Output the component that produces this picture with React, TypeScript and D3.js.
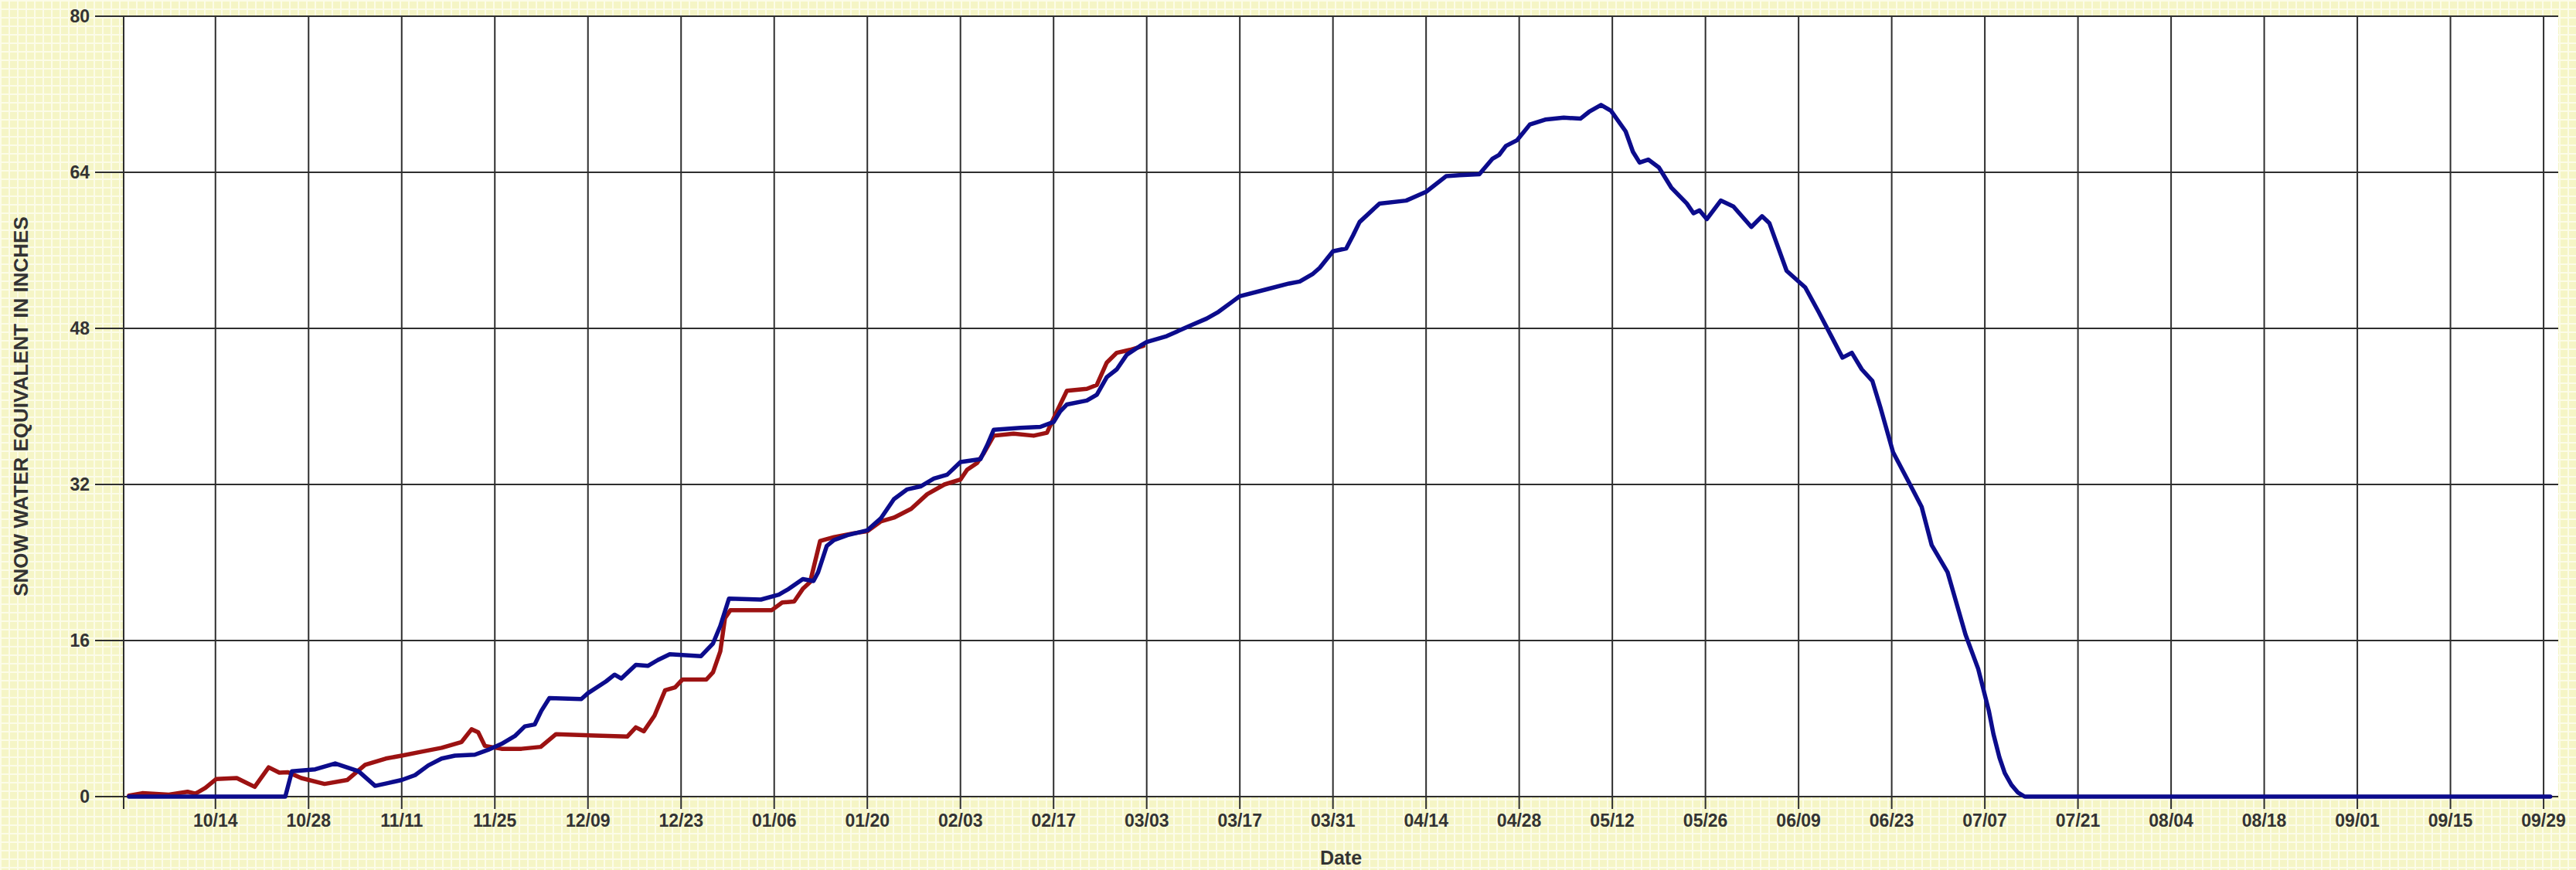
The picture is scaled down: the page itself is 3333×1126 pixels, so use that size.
import React from "react";
import * as d3 from "d3";

// ---- data (day of water year, 10/01 = day 0) ----
const xTickDays = [13, 27, 41, 55, 69, 83, 97, 111, 125, 139, 153, 167, 181, 195, 209, 223, 237, 251, 265, 279, 293, 307, 321, 335, 349, 363];
const xTickLabels = ["10/14", "10/28", "11/11", "11/25", "12/09", "12/23", "01/06", "01/20", "02/03", "02/17", "03/03", "03/17", "03/31", "04/14", "04/28", "05/12", "05/26", "06/09", "06/23", "07/07", "07/21", "08/04", "08/18", "09/01", "09/15", "09/29"];
const yTicks = [0, 16, 32, 48, 64, 80];

const blueDays = [0, 23.5, 24.5, 28, 31, 34.5, 37, 39, 41, 43, 45, 47, 49, 52, 54, 56, 58, 59.5, 61, 62, 63.2, 68, 69, 71.7, 73, 74, 76.2, 78, 79.5, 81.3, 86, 87.8, 88.9, 90.2, 95, 97.7, 99.2, 101.3, 102.9, 103.6, 104.9, 106, 108, 111, 113, 115, 117, 119, 121, 123, 125, 128, 129, 130, 134, 137, 139, 140, 141, 144, 145.5, 147, 148.5, 150, 152, 153, 156, 159.6, 162, 163.8, 166, 167, 171, 174.4, 176, 178, 179, 181, 183, 184, 185, 188, 192, 195, 198, 200, 203, 205, 206, 207, 208.7, 210.6, 212.9, 215.7, 218.2, 219.5, 221.3, 222.8, 225, 226.1, 227.1, 228.4, 230, 231.9, 234.2, 235.2, 236.1, 237.2, 239.3, 241.2, 243.9, 245.5, 246.6, 249.2, 252, 254, 256, 257.6, 259, 260.5, 262.1, 263.3, 265.2, 267.6, 269.5, 271, 273.4, 276.1, 278, 279.6, 280.3, 281.2, 282, 283, 284, 285, 364];
const blueValues = [0, 0, 2.6, 2.8, 3.4, 2.6, 1.1, 1.4, 1.7, 2.2, 3.2, 3.9, 4.2, 4.3, 4.8, 5.4, 6.2, 7.2, 7.4, 8.8, 10.1, 10.0, 10.6, 11.8, 12.5, 12.1, 13.5, 13.4, 14.0, 14.6, 14.4, 15.7, 17.5, 20.3, 20.2, 20.7, 21.3, 22.3, 22.1, 23.0, 25.7, 26.3, 26.8, 27.3, 28.5, 30.5, 31.5, 31.8, 32.6, 33.0, 34.3, 34.6, 36.0, 37.6, 37.8, 37.9, 38.4, 39.5, 40.2, 40.6, 41.2, 43.0, 43.8, 45.3, 46.2, 46.6, 47.2, 48.3, 49.0, 49.7, 50.8, 51.3, 52.0, 52.6, 52.8, 53.6, 54.2, 55.9, 56.2, 57.5, 58.9, 60.8, 61.1, 62.0, 63.6, 63.7, 63.8, 65.4, 65.8, 66.7, 67.3, 68.9, 69.4, 69.6, 69.5, 70.2, 70.9, 70.3, 68.2, 66.1, 65.0, 65.3, 64.5, 62.4, 60.8, 59.8, 60.1, 59.2, 61.1, 60.5, 58.4, 59.5, 58.8, 53.9, 52.2, 49.7, 47.1, 45.0, 45.5, 43.8, 42.6, 39.9, 35.3, 32.2, 29.7, 25.8, 23.0, 16.6, 13.1, 8.8, 6.4, 4.0, 2.4, 1.2, 0.4, 0, 0];

const redDays = [0, 2, 6, 8.8, 10, 11.5, 13.1, 16.2, 18.9, 21, 22.6, 23.9, 25.9, 29.4, 32.8, 35.5, 38.6, 41, 44, 47, 50, 51.5, 52.5, 53.5, 56, 59, 61.9, 64.2, 74.9, 76.2, 77.4, 79, 80.6, 82.1, 83.2, 86.8, 87.8, 88.9, 89.6, 90.4, 96.6, 98.2, 100, 101.3, 102.4, 103.9, 106, 109, 111, 113, 115, 117.6, 120, 122.6, 125, 126, 127.5, 128.5, 130, 133, 136, 138, 139.5, 141, 144, 145.5, 147, 148.5, 150.5, 152.5];
const redValues = [0.1, 0.35, 0.2, 0.5, 0.3, 0.9, 1.8, 1.9, 1.0, 3.0, 2.45, 2.5, 1.9, 1.3, 1.7, 3.25, 3.9, 4.2, 4.6, 5.0, 5.6, 6.9, 6.6, 5.2, 4.9, 4.9, 5.1, 6.4, 6.15, 7.1, 6.7, 8.3, 10.9, 11.2, 12.0, 12.0, 12.75, 14.9, 18.3, 19.1, 19.1, 19.9, 20.0, 21.3, 22.0, 26.2, 26.6, 27.0, 27.2, 28.2, 28.6, 29.5, 31.0, 32.0, 32.5, 33.5, 34.2, 35.2, 37.0, 37.2, 37.0, 37.3, 39.5, 41.6, 41.8, 42.2, 44.5, 45.5, 45.8, 46.2];

const W = 3333;
const H = 1126;
const PL = 160, PR = 3310, PT = 21, PB = 1031;

export default function App() {
  const x = d3.scaleLinear().domain([-0.8, 365.2]).range([PL, PR]);
  const y = d3.scaleLinear().domain([0, 80]).range([PB, PT]);
  const line = d3
    .line<[number, number]>()
    .x((d) => x(d[0]))
    .y((d) => y(d[1]))
    .curve(d3.curveLinear);
  const blue = blueDays.map((d, i) => [d, blueValues[i]] as [number, number]);
  const red = redDays.map((d, i) => [d, redValues[i]] as [number, number]);
  const gridColor = "#2e2e2e";
  const font = "'Liberation Sans', Arial, sans-serif";
  return (
    <svg
      width={W}
      height={H}
      style={{ position: "absolute", left: 0, top: 0, display: "block" }}
    >
      <defs>
        <pattern id="paper" width={11} height={11} patternUnits="userSpaceOnUse">
          <rect width={11} height={11} fill="#f5f5c6" />
          <path d="M0 1H11M1 0V11" stroke="#fcfce8" strokeWidth={2} />
        </pattern>
      </defs>
      <rect x={0} y={0} width={W} height={H} fill="url(#paper)" />
      <rect x={PL} y={PT} width={PR - PL} height={PB - PT} fill="#ffffff" />
      {/* horizontal grid + y ticks */}
      {yTicks.map((t) => (
        <g key={"y" + t}>
          <line x1={123} x2={PR} y1={y(t)} y2={y(t)} stroke={gridColor} strokeWidth={2} />
          <text
            x={116}
            y={y(t)}
            textAnchor="end"
            dominantBaseline="central"
            fontFamily={font}
            fontWeight="bold"
            fontSize={23}
            fill="#333"
          >
            {t}
          </text>
        </g>
      ))}
      {/* vertical grid + x ticks */}
      {xTickDays.map((d, i) => (
        <g key={"x" + d}>
          <line x1={x(d)} x2={x(d)} y1={PT} y2={PB + 16} stroke={gridColor} strokeWidth={2} />
          <text
            x={x(d)}
            y={1070}
            textAnchor="middle"
            fontFamily={font}
            fontWeight="bold"
            fontSize={23}
            fill="#333"
          >
            {xTickLabels[i]}
          </text>
        </g>
      ))}
      {/* y axis line */}
      <line x1={PL} x2={PL} y1={PT} y2={PB + 16} stroke={gridColor} strokeWidth={2} />
      {/* series */}
      <path d={line(red) || ""} fill="none" stroke="#9c1212" strokeWidth={5.5} strokeLinejoin="round" strokeLinecap="round" />
      <path d={line(blue) || ""} fill="none" stroke="#0c0c8c" strokeWidth={5.5} strokeLinejoin="round" strokeLinecap="round" />
      {/* axis titles */}
      <text
        x={PL + (PR - PL) / 2}
        y={1119}
        textAnchor="middle"
        fontFamily={font}
        fontWeight="bold"
        fontSize={25}
        fill="#333"
      >
        Date
      </text>
      <text
        transform={`translate(27, ${(PT + PB) / 2}) rotate(-90)`}
        textAnchor="middle"
        dominantBaseline="central"
        fontFamily={font}
        fontWeight="bold"
        fontSize={26}
        fill="#333"
      >
        SNOW WATER EQUIVALENT IN INCHES
      </text>
    </svg>
  );
}
